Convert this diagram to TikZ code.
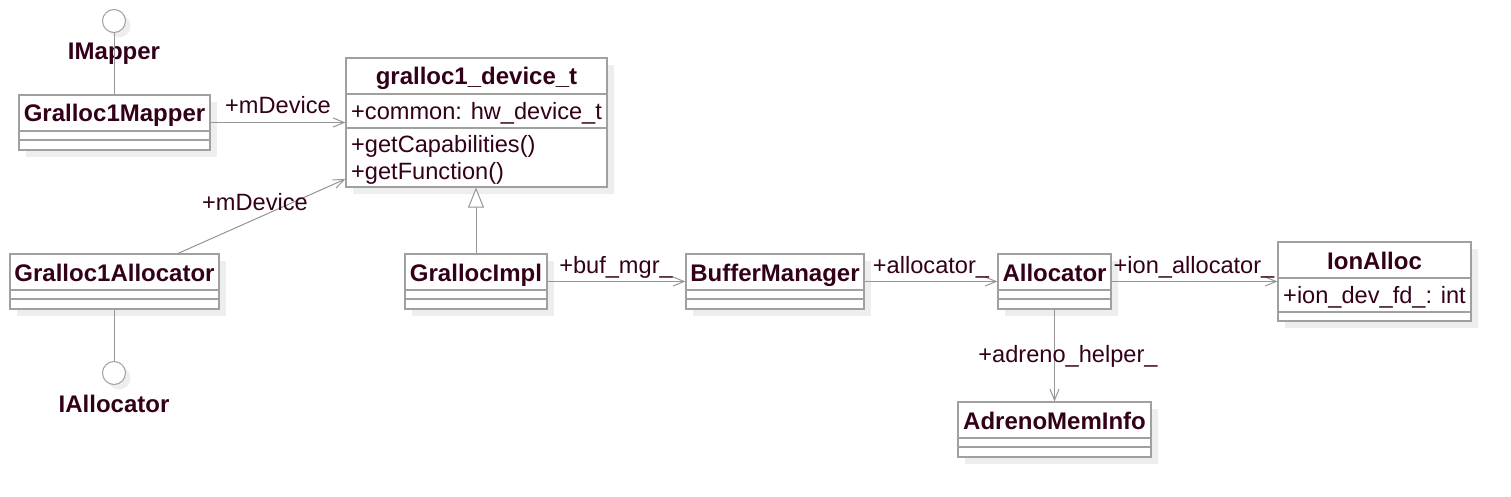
\documentclass[tikz,border=0pt]{standalone}
\usepackage{fontspec}
\setmainfont{Liberation Sans}
\usetikzlibrary{arrows.meta,shadows,calc}
\definecolor{txt}{RGB}{51,0,26}
\definecolor{edgec}{RGB}{150,150,150}
\definecolor{boxc}{RGB}{160,160,160}
\definecolor{shade}{RGB}{238,238,238}
\begin{document}
\begin{tikzpicture}[x=1pt,y=-1pt,
  cls/.style={draw=boxc, line width=1.1pt, fill=white, inner sep=0pt, rectangle,
    general shadow={fill=shade, shadow xshift=7pt, shadow yshift=-7pt}},
  iface/.style={draw=boxc, line width=1pt, fill=white, circle, inner sep=0pt, minimum size=23pt,
    general shadow={fill=shade, shadow xshift=5pt, shadow yshift=-5pt}},
  title/.style={font=\fontsize{24}{28}\selectfont\bfseries, text=txt, inner sep=0pt, anchor=base},
  member/.style={font=\fontsize{23.6}{27}\selectfont, text=txt, inner sep=0pt, anchor=base west},
  lbl/.style={font=\fontsize{23.6}{27}\selectfont, text=txt, inner sep=0pt, anchor=base},
  divider/.style={draw=boxc, line width=1.1pt},
  ln/.style={draw=edgec, line width=1pt},
  assoc/.style={draw=edgec, line width=1pt, -{Straight Barb[length=11pt,width=9pt]}},
  inherit/.style={draw=edgec, line width=1pt, -{Triangle[open, length=20pt, width=16pt, fill=white]}}
]
\useasboundingbox (0,0) rectangle (1511,497);

% interfaces
\node[iface] (im) at (114,21) {};
\node[title] (iml) at (114,60) {IMapper};
\node[iface] (ia) at (114,373) {};
\node[title] (ial) at (114,412) {IAllocator};

% Gralloc1Mapper
\node[cls, minimum width=191pt, minimum height=55pt] (gm) at (114.5,122.5) {};
\node[title] at (114.5,122) {Gralloc1Mapper};
\draw[divider] (gm.west |- 0,131) -- (gm.east |- 0,131);
\draw[divider] (gm.west |- 0,140) -- (gm.east |- 0,140);

% gralloc1_device_t
\node[cls, minimum width=261pt, minimum height=129pt] (gd) at (476.5,122.5) {};
\node[title] at (476.5,85) {gralloc1\_device\_t};
\draw[divider] (gd.west |- 0,94) -- (gd.east |- 0,94);
\node[member] at (351,120) {+common: hw\_device\_t};
\draw[divider] (gd.west |- 0,128) -- (gd.east |- 0,128);
\node[member] at (351,153) {+getCapabilities()};
\node[member] at (351,179) {+getFunction()};

% Gralloc1Allocator
\node[cls, minimum width=209pt, minimum height=55pt] (ga) at (114.5,281.5) {};
\node[title] at (114.5,281) {Gralloc1Allocator};
\draw[divider] (ga.west |- 0,290) -- (ga.east |- 0,290);
\draw[divider] (ga.west |- 0,299) -- (ga.east |- 0,299);

% GrallocImpl
\node[cls, minimum width=142pt, minimum height=55pt] (gi) at (476,281.5) {};
\node[title] at (476,281) {GrallocImpl};
\draw[divider] (gi.west |- 0,290) -- (gi.east |- 0,290);
\draw[divider] (gi.west |- 0,299) -- (gi.east |- 0,299);

% BufferManager
\node[cls, minimum width=178pt, minimum height=55pt] (bm) at (775,281.5) {};
\node[title] at (775,281) {BufferManager};
\draw[divider] (bm.west |- 0,290) -- (bm.east |- 0,290);
\draw[divider] (bm.west |- 0,299) -- (bm.east |- 0,299);

% Allocator
\node[cls, minimum width=113pt, minimum height=55pt] (al) at (1054.5,281.5) {};
\node[title] at (1054.5,281) {Allocator};
\draw[divider] (al.west |- 0,290) -- (al.east |- 0,290);
\draw[divider] (al.west |- 0,299) -- (al.east |- 0,299);

% IonAlloc
\node[cls, minimum width=193pt, minimum height=79pt] (ion) at (1374.5,281.5) {};
\node[title] at (1374.5,269) {IonAlloc};
\draw[divider] (ion.west |- 0,278) -- (ion.east |- 0,278);
\node[member] at (1283,303) {+ion\_dev\_fd\_: int};
\draw[divider] (ion.west |- 0,312) -- (ion.east |- 0,312);

% AdrenoMemInfo
\node[cls, minimum width=193pt, minimum height=55pt] (am) at (1054.5,429.5) {};
\node[title] at (1054.5,429) {AdrenoMemInfo};
\draw[divider] (am.west |- 0,438) -- (am.east |- 0,438);
\draw[divider] (am.west |- 0,447) -- (am.east |- 0,447);

% connectors
\draw[ln] (im.south) -- (im.south |- gm.north);
\draw[ln] (ia.north |- ga.south) -- (ia.north);
\draw[assoc] (gm.east) -- (gm.east -| gd.west);
\node[lbl] at (278,114) {+mDevice};
\draw[assoc] ([xshift=63.5pt]ga.north) -- ([yshift=-56.5pt]gd.west);
\node[lbl] at (255,210) {+mDevice};
\draw[inherit] (gi.north) -- (gi.north |- gd.south);
\draw[assoc] (gi.east) -- (bm.west);
\node[lbl] at (616,273) {+buf\_mgr\_};
\draw[assoc] (bm.east) -- (al.west);
\node[lbl] at (931,273) {+allocator\_};
\draw[assoc] (al.east) -- (ion.west);
\node[lbl] at (1194,273) {+ion\_allocator\_};
\draw[assoc] (al.south) -- (am.north);
\node[lbl] at (1068,362) {+adreno\_helper\_};
\end{tikzpicture}
\end{document}
